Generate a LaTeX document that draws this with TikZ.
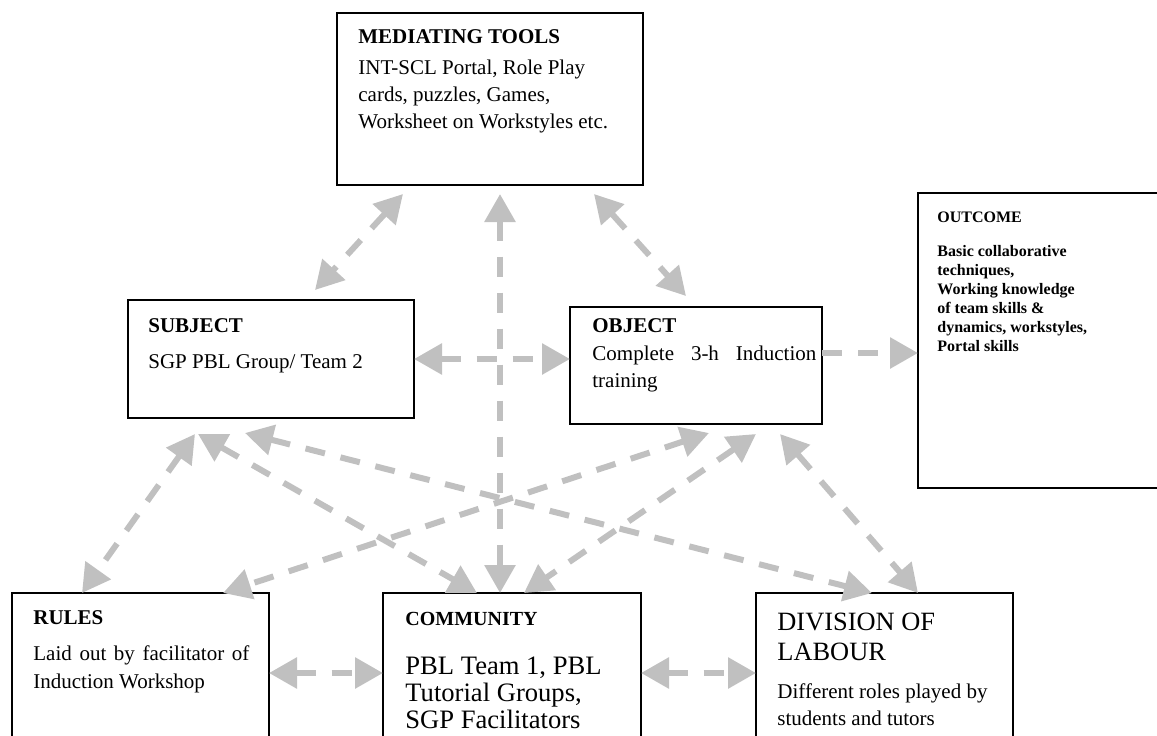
\documentclass[tikz,border=0pt]{standalone}
\usepackage{fontspec}
\setmainfont{Liberation Serif}
\usetikzlibrary{arrows.meta,calc}
\definecolor{linkgray}{RGB}{192,192,192}

\begin{document}
\begin{tikzpicture}[x=0.5pt, y=-0.5pt,
    >={Triangle[length=14pt,width=15pt]},
    box/.style={draw, line width=0.9pt, anchor=north west, inner sep=0pt, outer sep=0pt},
    head/.style={anchor=base west, inner sep=0pt, font=\fontsize{10.5}{12}\selectfont\bfseries},
    body/.style={anchor=base west, inner sep=0pt, align=left, font=\fontsize{10.5}{13.5}\selectfont},
    link/.style={draw=linkgray, line width=3pt, dash pattern=on 10pt off 8pt, <->},
    feed/.style={draw=linkgray, line width=3pt, dash pattern=on 10pt off 8pt, ->}]
  \clip (0,0) rectangle (1157,735);

  \node[box, minimum width=153pt, minimum height=86pt] (med) at (337,13) {};
  \node[box, minimum width=143pt, minimum height=59pt] (subj) at (128,300) {};
  \node[box, minimum width=126pt, minimum height=58.5pt] (obj) at (570,307) {};
  \node[box, minimum width=130pt, minimum height=147.5pt] (outc) at (918,193) {};
  \node[box, minimum width=128.5pt, minimum height=80pt] (rules) at (12,593) {};
  \node[box, minimum width=129pt, minimum height=80pt] (comm) at (383,593) {};
  \node[box, minimum width=128.5pt, minimum height=80pt] (div) at (756,593) {};

  % multi-line texts sit on the baseline of their last line
  \node[head] (med-h) at (358,43) {MEDIATING TOOLS};
  \node[body] (med-b) at (358,128) {INT-SCL Portal, Role Play\\cards, puzzles, Games,\\Worksheet on Workstyles etc.};
  \node[head] (subj-h) at (148,332) {SUBJECT};
  \node[body] (subj-b) at (148,368) {SGP PBL Group/ Team 2};
  \node[head] (obj-h) at (592,332) {OBJECT};
  \node[body] (obj-b) at (592,387) {\makebox[112pt][s]{Complete 3-h Induction}\\training};
  \node[head, font=\fontsize{8}{9.5}\selectfont\bfseries] (outc-h) at (937,222) {OUTCOME};
  \node[body, font=\fontsize{8}{9.5}\selectfont\bfseries] (outc-b) at (937,351) {Basic collaborative\\techniques,\\Working knowledge\\of team skills \&\\dynamics, workstyles,\\Portal skills};
  \node[head] (rules-h) at (33,624) {RULES};
  \node[body, font=\fontsize{10.5}{14}\selectfont] (rules-b) at (33,688) {\makebox[108pt][s]{Laid out by facilitator of}\\Induction Workshop};
  \node[head, font=\fontsize{10}{12}\selectfont\bfseries] (comm-h) at (405,625) {COMMUNITY};
  \node[body, font=\fontsize{13.3}{13.4}\selectfont] (comm-b) at (405,728) {PBL Team 1, PBL\\Tutorial Groups,\\SGP Facilitators};
  \node[body, font=\fontsize{13.2}{15}\selectfont] (div-h) at (777,660) {DIVISION OF\\LABOUR};
  \node[body] (div-b) at (777,725) {Different roles played by\\students and tutors};

  \draw[link] ($(med.south west)+(66,9)$) -- ($(subj.north west)+(187,-10)$);
  \draw[link] ($(med.south west)+(163,9)$) -- ($(comm.north west)+(117,0)$);
  \draw[link] ($(med.south west)+(257,9)$) -- ($(obj.north west)+(116,-11)$);
  \draw[link] (subj.east) -- (subj.east -| obj.west);
  \draw[feed] ($(obj.north east)+(0,46)$) -- ($(outc.north west)+(0,160)$);
  \draw[link] ($(subj.south west)+(67,16)$) -- ($(rules.north west)+(70,0)$);
  \draw[link] ($(subj.south west)+(70,16)$) -- ($(comm.north west)+(94,0)$);
  \draw[link] ($(subj.south west)+(117,15)$) -- ($(div.north west)+(116,0)$);
  \draw[link] ($(obj.south west)+(139,9)$) -- ($(rules.north west)+(211,0)$);
  \draw[link] ($(obj.south west)+(186,10)$) -- ($(comm.north west)+(141,0)$);
  \draw[link] ($(obj.south west)+(210,10)$) -- ($(div.north west)+(162,0)$);
  \draw[link] (rules.east) -- (comm.west);
  \draw[link] (comm.east) -- (div.west);
\end{tikzpicture}
\end{document}
